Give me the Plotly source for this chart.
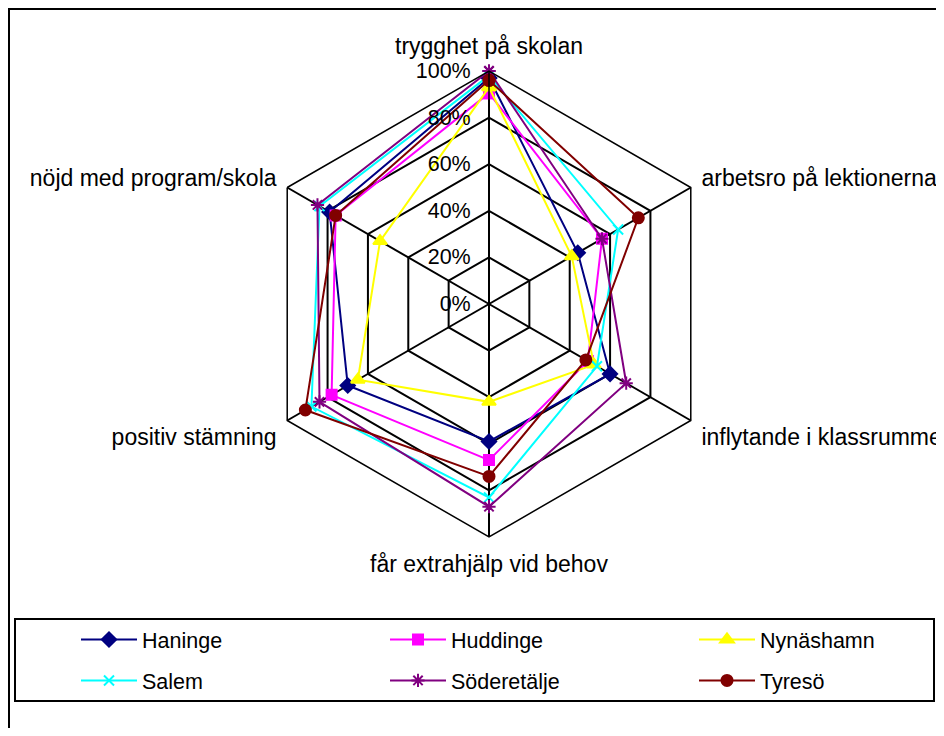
import plotly.graph_objects as go

# Kategorier (medurs från toppen)
categories = [
    "trygghet på skolan",
    "arbetsro på lektionerna",
    "inflytande i klassrummet",
    "får extrahjälp vid behov",
    "positiv stämning",
    "nöjd med program/skola",
]

haninge = [0.97, 0.44, 0.60, 0.59, 0.70, 0.79]
huddinge = [0.905, 0.56, 0.49, 0.67, 0.78, 0.76]
nynashamn = [0.93, 0.41, 0.52, 0.42, 0.65, 0.54]
salem = [0.98, 0.64, 0.535, 0.83, 0.88, 0.84]
soderetalje = [1.00, 0.56, 0.68, 0.87, 0.84, 0.85]
tyreso = [0.96, 0.74, 0.48, 0.74, 0.91, 0.76]

# namn, värden, färg, markör, storlek, förklaringskolumn
series = [
    ("Haninge", haninge, "#000080", "diamond", 11, "legend"),
    ("Huddinge", huddinge, "#FF00FF", "square", 10, "legend2"),
    ("Nynäshamn", nynashamn, "#FFFF00", "triangle-up", 12, "legend3"),
    ("Salem", salem, "#00FFFF", "x-thin-open", 10, "legend"),
    ("Söderetälje", soderetalje, "#800080", "asterisk-open", 11, "legend2"),
    ("Tyresö", tyreso, "#800000", "circle", 11, "legend3"),
]

FONT = "Liberation Sans, Arial, sans-serif"

fig = go.Figure()
for name, vals, color, symbol, size, leg in series:
    fig.add_trace(go.Scatterpolar(
        r=vals + vals[:1],
        theta=categories + categories[:1],
        mode="lines+markers",
        name=name,
        legend=leg,
        legendgroup=name,
        line=dict(color=color, width=2),
        marker=dict(symbol=symbol, size=size, color=color,
                    line=dict(color=color, width=2)),
    ))

# sidan har 8 px marginal i webbläsaren
W, H = 928, 720
cx, cy, rad = 481, 296, 233


def legend_col(x_px):
    return dict(
        orientation="v",
        x=x_px / W, xanchor="left",
        y=1 - 652 / H, yanchor="middle",
        itemwidth=56,
        tracegroupgap=10,
        bgcolor="rgba(0,0,0,0)",
        font=dict(size=21.5),
    )


fig.update_layout(
    width=W,
    height=H,
    margin=dict(l=0, r=0, t=0, b=0),
    paper_bgcolor="white",
    font=dict(family=FONT, size=21.5, color="black"),
    polar=dict(
        domain=dict(
            x=[(cx - rad) / W, (cx + rad) / W],
            y=[(H - cy - rad) / H, (H - cy + rad) / H],
        ),
        gridshape="linear",
        bgcolor="white",
        angularaxis=dict(
            rotation=90,
            direction="clockwise",
            linecolor="black",
            linewidth=1.5,
            gridcolor="black",
            gridwidth=1.5,
            ticks="outside",
            ticklen=7,
            tickcolor="rgba(0,0,0,0)",
            tickfont=dict(size=23),
        ),
        radialaxis=dict(
            range=[0, 1],
            dtick=0.2,
            tickformat=".0%",
            angle=90,
            tickangle=90,
            side="counterclockwise",
            showline=True,
            linecolor="black",
            linewidth=1.5,
            gridcolor="black",
            gridwidth=1.5,
            ticks="outside",
            ticklen=10,
            tickcolor="rgba(0,0,0,0)",
            tickfont=dict(size=21.5),
        ),
    ),
    showlegend=True,
    legend=legend_col(68),
    legend2=legend_col(377),
    legend3=legend_col(686),
    shapes=[
        # ram runt diagrammet
        dict(type="rect", xref="paper", yref="paper",
             x0=1 / W, x1=1.05, y0=-0.05, y1=1 - 1 / H,
             line=dict(color="black", width=2)),
        # ram runt förklaringen
        dict(type="rect", xref="paper", yref="paper",
             x0=7 / W, x1=926 / W, y0=1 - 693 / H, y1=1 - 611 / H,
             line=dict(color="black", width=2)),
    ],
)

fig.write_html("out.html")
